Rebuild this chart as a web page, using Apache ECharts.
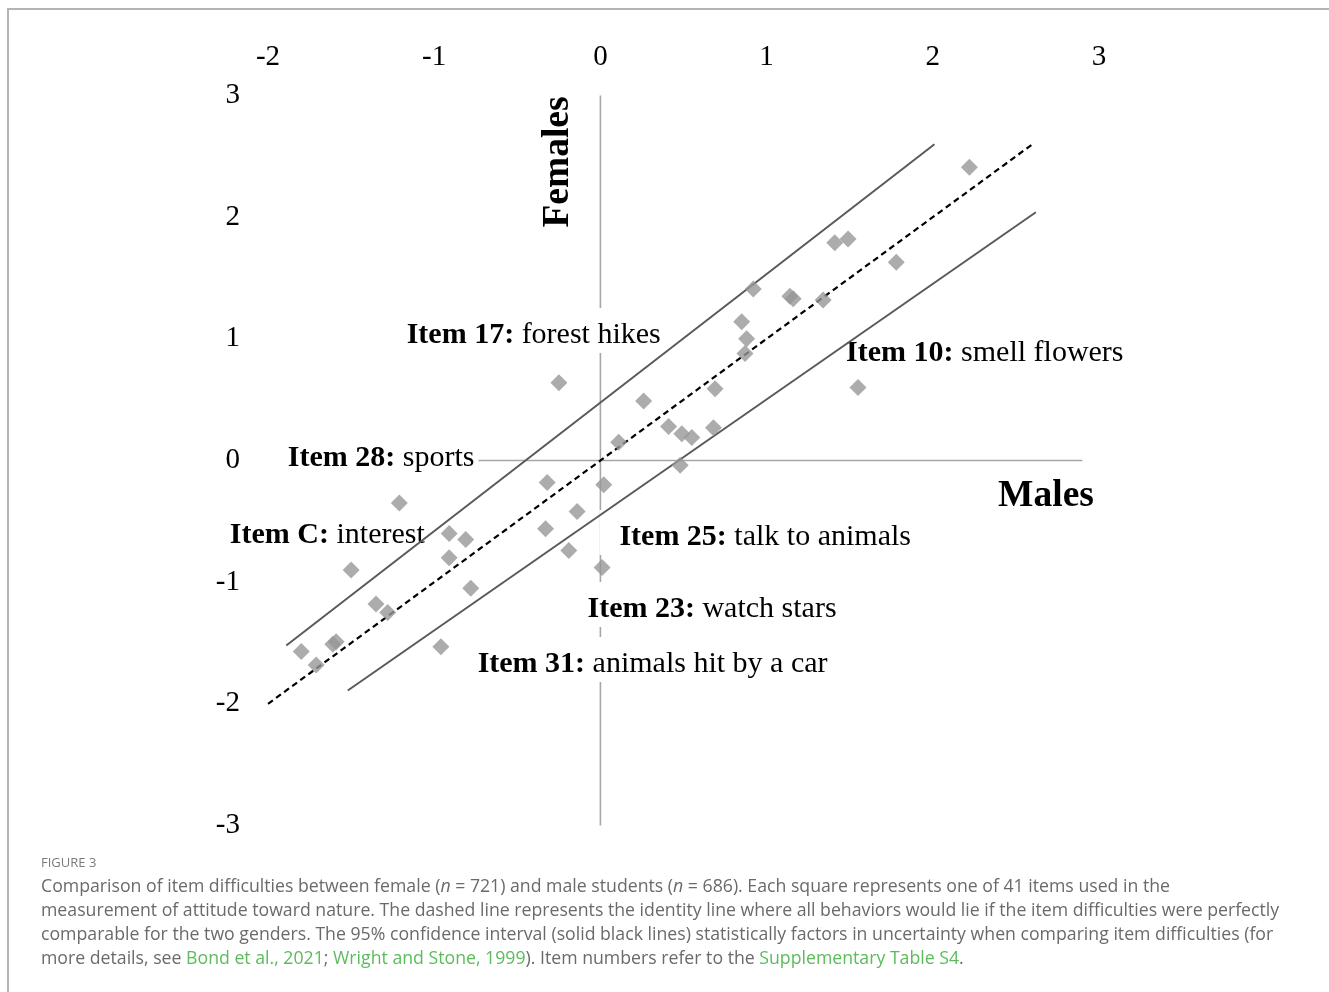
<!DOCTYPE html>
<html><head><meta charset="utf-8">
<script src="https://cdn.jsdelivr.net/npm/echarts@6/dist/echarts.min.js"></script>
<style>
html,body{margin:0;padding:0;background:#fff;overflow:hidden;}
#frame{position:absolute;left:7px;top:8px;width:1340px;height:1000px;border-top:2px solid #b4b4b4;border-left:2px solid #b4b4b4;}
#chart{position:absolute;left:0;top:0;width:1329px;height:992px;}
</style></head>
<body><div id="frame"></div><div id="chart"></div>
<script>
// Item difficulties (logits): males on x, females on y
const maleDifficulty = [2.22, 1.41, 1.49, 1.78, 0.92, 1.14, 1.16, 1.34, 0.85, 0.88, 0.87, -0.25, 1.55, 0.69, 0.26, 0.11, 0.41, 0.49, 0.55, 0.68, 0.48, 0.02, -0.32, -1.21, -0.14, -0.33, -0.91, -0.81, -0.91, -0.19, -1.50, 0.01, -0.78, -1.35, -1.28, -1.59, -1.61, -1.80, -1.71, -0.96];
const femaleDifficulty = [2.41, 1.79, 1.82, 1.63, 1.41, 1.35, 1.33, 1.32, 1.14, 1.00, 0.88, 0.64, 0.60, 0.59, 0.49, 0.15, 0.28, 0.22, 0.19, 0.27, -0.04, -0.20, -0.18, -0.35, -0.42, -0.56, -0.60, -0.65, -0.80, -0.74, -0.90, -0.88, -1.05, -1.18, -1.25, -1.49, -1.51, -1.57, -1.68, -1.53];
const xTickLabels = ['-2', '-1', '0', '1', '2', '3'];
const yTickLabels = ['-3', '-2', '-1', '0', '1', '2', '3'];
// reference lines (data units)
const identityLine = [[-2.0, -2.0], [2.6, 2.6]];
const upperCI = [[-1.89, -1.52], [2.01, 2.60]];
const lowerCI = [[-1.52, -1.89], [2.62, 2.04]];
const zeroH = [[-2.0, 0], [2.9, 0]];
const zeroV = [[0, -3], [0, 3]];
// annotations
const annotationBold = ['Item 17:', 'Item 10:', 'Item 28:', 'Item C:', 'Item 25:', 'Item 23:', 'Item 31:'];
const annotationText = ['forest hikes', 'smell flowers', 'sports', 'interest', 'talk to animals', 'watch stars', 'animals hit by a car'];
const annotationX = [-1.286, 1.358, -2.001, -2.35, -0.006, -0.198, -0.859];
const annotationY = [1.069, 0.921, 0.058, -0.575, -0.591, -1.183, -1.635];

const serif = 'Liberation Serif';
const chart = echarts.init(document.getElementById('chart'), null, {renderer: 'canvas'});

const points = maleDifficulty.map((m, i) => [m, femaleDifficulty[i]]);
const annData = annotationText.map((t, i) => ({value: [annotationX[i], annotationY[i]], name: '{b|' + annotationBold[i] + '} ' + t}));

const option = {
  animation: false,
  backgroundColor: 'transparent',
  grid: {left: 268, right: 230, top: 95.5, bottom: 166.5, containLabel: false},
  xAxis: {
    type: 'value', min: -2, max: 3, interval: 1, position: 'top',
    axisLine: {show: false}, axisTick: {show: false}, splitLine: {show: false},
    axisLabel: {margin: 24, fontFamily: serif, fontSize: 29, color: '#000',
      formatter: (v) => xTickLabels[Math.round(v + 2)]}
  },
  yAxis: {
    type: 'value', min: -3, max: 3, interval: 1,
    axisLine: {show: false}, axisTick: {show: false}, splitLine: {show: false},
    axisLabel: {margin: 28, fontFamily: serif, fontSize: 29, color: '#000', padding: [4, 0, 0, 0],
      formatter: (v) => yTickLabels[Math.round(v + 3)]}
  },
  series: [
    {type: 'line', data: zeroH, symbol: 'none', z: 1, clip: false, silent: true,
      lineStyle: {color: '#a6a6a6', width: 1.6}},
    {type: 'line', data: zeroV, symbol: 'none', z: 1, clip: false, silent: true,
      lineStyle: {color: '#a6a6a6', width: 1.6}},
    {type: 'scatter', data: annData, symbol: 'circle', symbolSize: 1, z: 2, clip: false, silent: true,
      itemStyle: {color: 'rgba(255,255,255,0)'},
      label: {show: true, position: 'inside', align: 'left', verticalAlign: 'middle',
        formatter: (p) => p.name,
        fontFamily: serif, fontSize: 30, color: '#000', lineHeight: 30,
        textBorderWidth: 0, textBorderColor: 'transparent', opacity: 1,
        backgroundColor: '#fff', padding: [12, 4, 3, 20],
        rich: {b: {fontFamily: serif, fontSize: 30, fontWeight: 'bold', color: '#000', lineHeight: 30,
          textBorderWidth: 0, textBorderColor: 'transparent'}}}},
    {type: 'line', data: upperCI, symbol: 'none', z: 3, clip: false, silent: true,
      lineStyle: {color: '#595959', width: 2}},
    {type: 'line', data: lowerCI, symbol: 'none', z: 3, clip: false, silent: true,
      lineStyle: {color: '#595959', width: 2}},
    {type: 'line', data: identityLine, symbol: 'none', z: 3, clip: false, silent: true,
      lineStyle: {color: '#000', width: 2.2, type: [6, 4]}},
    {type: 'scatter', data: points, symbol: 'diamond', symbolSize: 17, z: 4,
      itemStyle: {color: '#979797'}}
  ],
  graphic: [
    {type: 'text', x: 1046, y: 496, z: 10,
      style: {text: 'Males', fontFamily: serif, fontSize: 37.5, fontWeight: 'bold', fill: '#000', align: 'center', verticalAlign: 'middle'}},
    {type: 'text', x: 558, y: 162, rotation: Math.PI / 2, z: 10,
      style: {text: 'Females', fontFamily: serif, fontSize: 37.5, fontWeight: 'bold', fill: '#000', align: 'center', verticalAlign: 'middle'}},
    {type: 'text', x: 41, y: 863, z: 10,
      style: {text: 'FIGURE 3', fontFamily: 'Open Sans', fontSize: 13, fill: '#7a7a7a', verticalAlign: 'middle'}},
    {type: 'text', x: 41, y: 875, z: 10,
      style: {
        text: 'Comparison of item difficulties between female ({i|n} = 721) and male students ({i|n} = 686). Each square represents one of 41 items used in the\n' +
              'measurement of attitude toward nature. The dashed line represents the identity line where all behaviors would lie if the item difficulties were perfectly\n' +
              'comparable for the two genders. The 95% confidence interval (solid black lines) statistically factors in uncertainty when comparing item difficulties (for\n' +
              'more details, see {g|Bond et al., 2021}; {g|Wright and Stone, 1999}). Item numbers refer to the {g|Supplementary Table S4}.',
        fontFamily: 'Open Sans', fontSize: 17.7, fill: '#6a6a6a', lineHeight: 24, verticalAlign: 'top',
        rich: {
          i: {fontFamily: 'Open Sans', fontSize: 17.7, fontStyle: 'italic', fill: '#6a6a6a', lineHeight: 24},
          g: {fontFamily: 'Open Sans', fontSize: 17.7, fill: '#5cbb5c', lineHeight: 24}
        }
      }}
  ]
};
chart.setOption(option);
</script>
</body></html>
